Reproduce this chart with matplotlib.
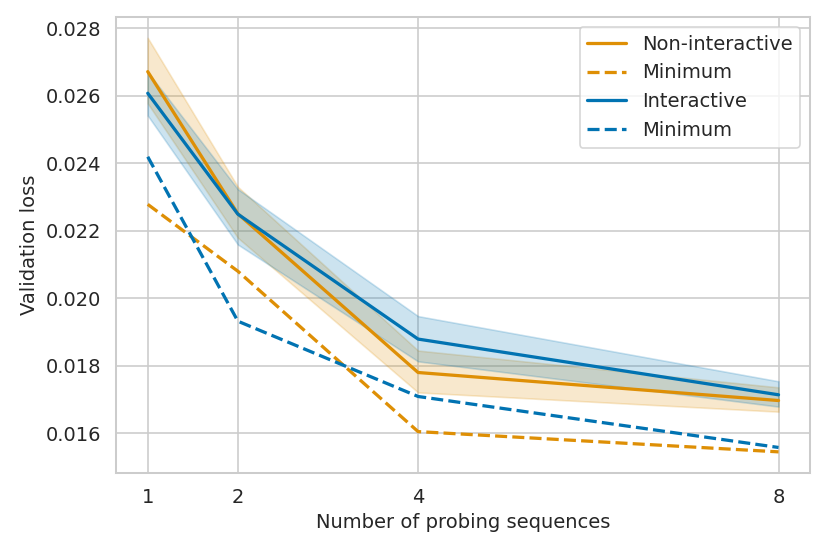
import matplotlib
matplotlib.use("Agg")
import matplotlib.pyplot as plt
import seaborn as sns
import numpy as np

sns.set_theme(style="whitegrid")
plt.rcParams['font.family'] = ['DejaVu Sans']

probes = [1, 2, 4, 8]

# non-interactive
noni_mean = [0.02671, 0.02250, 0.01780, 0.01697]
noni_low = [0.02577, 0.02179, 0.01721, 0.01664]
noni_high = [0.02771, 0.02330, 0.01845, 0.01736]
noni_min = [0.02278, 0.02080, 0.01605, 0.01545]

# interactive
inter_mean = [0.02607, 0.02249, 0.01879, 0.01714]
inter_low = [0.02541, 0.02159, 0.01813, 0.01679]
inter_high = [0.02670, 0.02323, 0.01947, 0.01754]
inter_min = [0.02419, 0.01932, 0.01709, 0.01558]

orange = "#de8f05"
blue = "#0173b2"

dpi = 117
fig = plt.figure(figsize=(830 / dpi, 554 / dpi), dpi=dpi)
ax = fig.add_subplot(111)

ax.plot(probes, noni_mean, color=orange, lw=2, label="Non-interactive")
ax.fill_between(probes, noni_low, noni_high, color=orange, alpha=0.2)
ax.plot(probes, noni_min, color=orange, lw=2, ls="--", label="Minimum")

ax.plot(probes, inter_mean, color=blue, lw=2, label="Interactive")
ax.fill_between(probes, inter_low, inter_high, color=blue, alpha=0.2)
ax.plot(probes, inter_min, color=blue, lw=2, ls="--", label="Minimum")

ax.set_xticks(probes)
ax.set_xticklabels([str(p) for p in probes])
ax.tick_params(labelsize=12)
ax.set_xlabel("Number of probing sequences", fontsize=12)
ax.set_ylabel("Validation loss", fontsize=12)
ax.legend(loc="upper right", fontsize=12)

fig.subplots_adjust(left=0.14, right=0.976, top=0.969, bottom=0.147)
fig.savefig("out.png", dpi=dpi)
